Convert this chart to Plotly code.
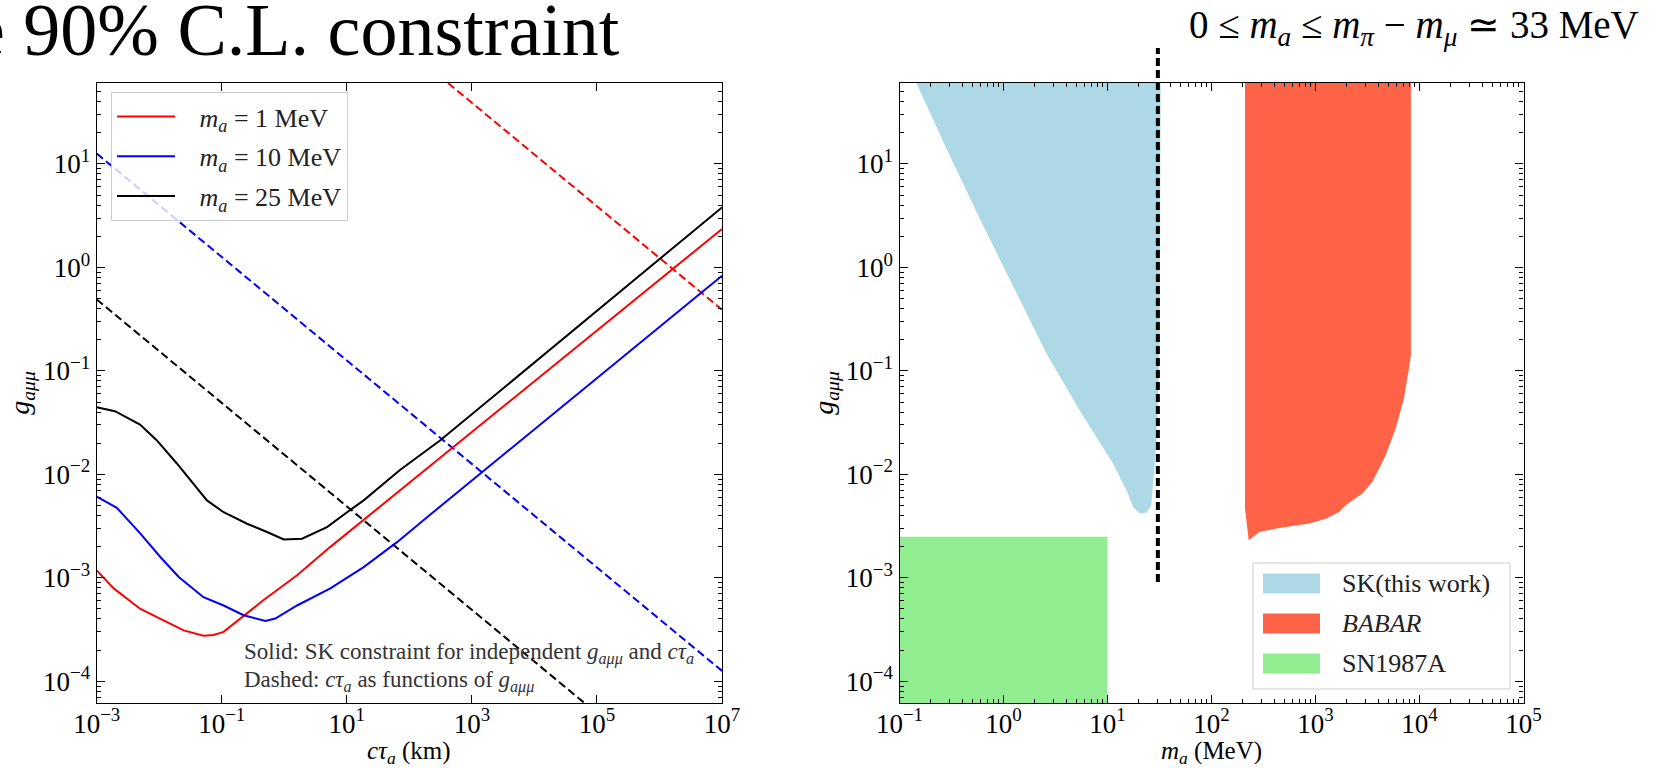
import plotly.graph_objects as go

SERIF = "Liberation Serif"

# ---------------- data ----------------
# Left panel: SK constraint curves (c tau_a in km, g_a mu mu)
red_ctau = [1e-3, 1.87e-3, 5.0e-3, 1.18e-2, 2.46e-2, 5.1e-2, 7.4e-2, 0.107, 0.198, 0.468, 1.6, 5.4, 1e7]
red_g = [1.18e-3, 7.9e-4, 5.0e-4, 3.9e-4, 3.1e-4, 2.75e-4, 2.8e-4, 3.0e-4, 4.0e-4, 6.1e-4, 1.06e-3, 1.98e-3, 2.35]

blue_ctau = [1e-3, 2.1e-3, 5.0e-3, 1.05e-2, 2.05e-2, 5.1e-2, 0.107, 0.224, 0.497, 0.718, 1.6, 5.45, 18.6, 63.5, 192, 1e7]
blue_g = [6.1e-3, 4.75e-3, 2.67e-3, 1.58e-3, 1.02e-3, 6.5e-4, 5.4e-4, 4.35e-4, 3.83e-4, 4.04e-4, 5.4e-4, 7.9e-4, 1.27e-3, 2.21e-3, 3.85e-3, 0.83]

black_ctau = [1e-3, 1.96e-3, 4.93e-3, 9.1e-3, 1.9e-2, 3.5e-2, 5.8e-2, 0.107, 0.254, 0.53, 0.98, 1.92, 4.82, 10.1, 18.6, 70.8, 309, 1e7]
black_g = [0.0444, 0.0408, 0.0303, 0.0214, 0.0128, 8.2e-3, 5.6e-3, 4.3e-3, 3.33e-3, 2.77e-3, 2.35e-3, 2.39e-3, 3.09e-3, 4.3e-3, 5.6e-3, 1.1e-2, 2.12e-2, 3.8]

# Dashed: c tau_a as function of g (straight lines in log-log)
dash_ctau = [1e-3, 1e7]
red_dash_g = [3.9e4, 0.39]
blue_dash_g = [12.6, 1.26e-4]
black_dash_g = [0.49, 4.9e-6]

masses = ["1", "10", "25"]

# Right panel: excluded regions (m_a in MeV, g_a mu mu)
sk_m = [0.1426, 0.287, 0.598, 1.25, 2.61, 5.43, 11.3, 15.2, 17.6, 20.4, 23.7, 26.4, 27.4, 29.0, 30.5, 31.8, 32.4]
sk_g = [63, 13.6, 2.88, 0.641, 0.145, 0.0411, 0.0127, 7.0e-3, 4.85e-3, 4.19e-3, 4.25e-3, 5.04e-3, 7.5e-3, 0.0159, 0.0485, 0.214, 63]

babar_m = [210, 210, 228, 288, 449, 869, 1256, 1687, 1954, 2818, 3516, 4721, 5888, 7079, 7907, 8260, 8260]
babar_g = [63, 4.67e-3, 2.31e-3, 2.77e-3, 3.03e-3, 3.34e-3, 3.73e-3, 4.33e-3, 5.02e-3, 6.52e-3, 8.43e-3, 0.0152, 0.0276, 0.0537, 0.105, 0.141, 63]

sn_m = [0.01, 10, 10, 0.01]
sn_g = [1e-6, 1e-6, 2.5e-3, 2.5e-3]

region_names = ["SK(this work)", "<i>BABAR</i>", "SN1987A"]
region_colors = ["#add8e6", "#ff6347", "#90ee90"]

m_pi_minus_m_mu = 30.5  # position of the dashed vertical line (MeV)

left_xtick_vals = [1e-3, 1e-1, 1e1, 1e3, 1e5, 1e7]
left_xtick_text = ["10<sup>−3</sup>", "10<sup>−1</sup>", "10<sup>1</sup>", "10<sup>3</sup>", "10<sup>5</sup>", "10<sup>7</sup>"]
right_xtick_vals = [1e-1, 1e0, 1e1, 1e2, 1e3, 1e4, 1e5]
right_xtick_text = ["10<sup>−1</sup>", "10<sup>0</sup>", "10<sup>1</sup>", "10<sup>2</sup>", "10<sup>3</sup>", "10<sup>4</sup>", "10<sup>5</sup>"]
ytick_vals = [1e-4, 1e-3, 1e-2, 1e-1, 1e0, 1e1]
ytick_text = ["10<sup>−4</sup>", "10<sup>−3</sup>", "10<sup>−2</sup>", "10<sup>−1</sup>", "10<sup>0</sup>", "10<sup>1</sup>"]

# ---------------- figure ----------------
fig = go.Figure()

DASH = "8px,4px"
for g, col in [(red_dash_g, "#ff0000"), (blue_dash_g, "#0000ff"), (black_dash_g, "#000000")]:
    fig.add_trace(go.Scatter(x=dash_ctau, y=g, mode="lines", showlegend=False,
                             line=dict(color=col, width=2, dash=DASH), xaxis="x", yaxis="y"))

NB = "\u00a0\u00a0\u00a0"
for xs, ys, col, m in [(red_ctau, red_g, "#ff0000", masses[0]),
                       (blue_ctau, blue_g, "#0000ff", masses[1]),
                       (black_ctau, black_g, "#000000", masses[2])]:
    fig.add_trace(go.Scatter(x=xs, y=ys, mode="lines", line=dict(color=col, width=2),
                             name=f"{NB}<i>m</i><sub><i>a</i></sub> = {m} MeV",
                             legendgroup=m, legend="legend", xaxis="x", yaxis="y"))

# right panel regions
for xs, ys, col, name in zip([sk_m, babar_m, sn_m], [sk_g, babar_g, sn_g], region_colors, region_names):
    fig.add_trace(go.Scatter(x=xs, y=ys, mode="lines", fill="toself", fillcolor=col,
                             line=dict(width=0, color=col), showlegend=False, name=name,
                             xaxis="x2", yaxis="y2", hoverinfo="skip"))


def minor_vals(lo, hi):
    out = []
    for d in range(lo, hi):
        for k in range(2, 10):
            out.append(k * 10.0 ** d)
    return out


common = dict(type="log", showline=True, linecolor="black", linewidth=1.3, mirror="allticks",
              ticks="inside", ticklen=8, tickwidth=1.3, tickcolor="black", showgrid=False,
              zeroline=False, tickfont=dict(family=SERIF, size=27, color="black"))
minor = dict(ticks="inside", ticklen=4, tickwidth=1, tickcolor="black", showgrid=False)

W, H = 1665, 768
xl = [96.7 / W, 722 / W]
xr = [899.5 / W, 1523.5 / W]
yd = [1 - 703 / H, 1 - 82.5 / H]
yrange = [-4.21, 1.787]

fig.update_layout(
    width=W, height=H, margin=dict(l=0, r=0, t=0, b=0, autoexpand=False),
    paper_bgcolor="white", plot_bgcolor="white",
    font=dict(family=SERIF, color="black"),
    xaxis=dict(common, domain=xl, range=[-3, 7], anchor="y", tickmode="array",
               tickvals=left_xtick_vals, ticktext=left_xtick_text, ticklabelstandoff=-4),
    yaxis=dict(common, domain=yd, range=yrange, anchor="x", tickmode="array",
               tickvals=ytick_vals, ticktext=ytick_text,
               minor=dict(minor, tickvals=minor_vals(-5, 2))),
    xaxis2=dict(common, domain=xr, range=[-1, 5], anchor="y2", tickmode="array",
                tickvals=right_xtick_vals, ticktext=right_xtick_text, ticklabelstandoff=-4,
                minor=dict(minor, tickvals=minor_vals(-1, 5))),
    yaxis2=dict(common, domain=yd, range=yrange, anchor="x2", tickmode="array",
                tickvals=ytick_vals, ticktext=ytick_text,
                minor=dict(minor, tickvals=minor_vals(-5, 2))),
    legend=dict(x=111 / W, y=1 - 92 / H, xanchor="left", yanchor="top",
                bgcolor="rgba(255,255,255,0.8)", bordercolor="#cccccc", borderwidth=1,
                font=dict(family=SERIF, size=26, color="#222222"), itemwidth=58,
                tracegroupgap=3),
    showlegend=True,
)

# vertical dashed line at m_pi - m_mu
fig.add_shape(type="line", xref="x2", yref="paper", x0=m_pi_minus_m_mu, x1=m_pi_minus_m_mu,
              y0=1 - 582 / H, y1=1 - 48 / H, line=dict(color="black", width=4, dash="8px,4px"))

# legend for the right panel (patch-style, as in the reference)
fig.add_shape(type="rect", xref="paper", yref="paper", x0=1253 / W, x1=1510 / W,
              y0=1 - 689 / H, y1=1 - 563 / H, line=dict(color="#cccccc", width=1),
              fillcolor="rgba(255,255,255,0.8)", layer="above")
ann = []
for i, (name, col) in enumerate(zip(region_names, region_colors)):
    yc = 583.5 + i * 40
    fig.add_shape(type="rect", xref="paper", yref="paper", x0=1263 / W, x1=1320 / W,
                  y0=1 - (yc + 10) / H, y1=1 - (yc - 10) / H, line=dict(width=0),
                  fillcolor=col, layer="above")
    ann.append(dict(text=name, x=1340 / W, y=1 - yc / H, xref="paper", yref="paper",
                    xanchor="left", yanchor="middle", showarrow=False,
                    font=dict(family=SERIF, size=26, color="#222222")))

ann.append(dict(text="e 90% C.L. constraint", x=622 / W, y=1 - 30 / H, xref="paper", yref="paper",
                xanchor="right", yanchor="middle", showarrow=False,
                font=dict(family=SERIF, size=74, color="black")))
ann.append(dict(text="0 ≤ <i>m</i><sub><i>a</i></sub> ≤ <i>m</i><sub><i>π</i></sub> − <i>m</i><sub><i>μ</i></sub> ≃ 33 MeV",
                x=1641 / W, y=1 - 27 / H, xref="paper", yref="paper", xanchor="right", yanchor="middle",
                showarrow=False, font=dict(family=SERIF, size=39, color="black")))
ann.append(dict(text="<i>cτ</i><sub><i>a</i></sub> (km)", x=(xl[0] + xl[1]) / 2, y=1 - 752 / H,
                xref="paper", yref="paper", xanchor="center", yanchor="middle", showarrow=False,
                font=dict(family=SERIF, size=25, color="black")))
ann.append(dict(text="<i>m</i><sub><i>a</i></sub> (MeV)", x=(xr[0] + xr[1]) / 2, y=1 - 752 / H,
                xref="paper", yref="paper", xanchor="center", yanchor="middle", showarrow=False,
                font=dict(family=SERIF, size=25, color="black")))
for xp in [22 / W, 826 / W]:
    ann.append(dict(text="<i>g</i><sub><i>aμμ</i></sub>", x=xp, y=(yd[0] + yd[1]) / 2,
                    xref="paper", yref="paper", xanchor="center", yanchor="middle", showarrow=False,
                    textangle=-90, font=dict(family=SERIF, size=28, color="black")))
ann.append(dict(text="Solid: SK constraint for independent <i>g</i><sub><i>aμμ</i></sub> and <i>cτ</i><sub><i>a</i></sub>",
                x=242 / W, y=1 - 653 / H, xref="paper", yref="paper", xanchor="left", yanchor="middle",
                showarrow=False, font=dict(family=SERIF, size=23, color="#333333")))
ann.append(dict(text="Dashed: <i>cτ</i><sub><i>a</i></sub> as functions of <i>g</i><sub><i>aμμ</i></sub>",
                x=242 / W, y=1 - 681 / H, xref="paper", yref="paper", xanchor="left", yanchor="middle",
                showarrow=False, font=dict(family=SERIF, size=23, color="#333333")))
fig.update_layout(annotations=ann)

fig.write_html("out.html")
